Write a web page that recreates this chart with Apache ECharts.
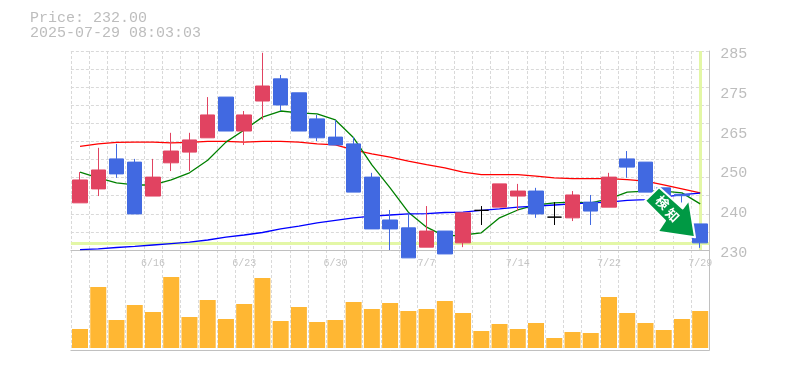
<!DOCTYPE html>
<html>
<head>
<meta charset="utf-8">
<style>html,body{margin:0;padding:0;background:#fff}#c{width:785px;height:370px}</style>
<script src="https://cdn.jsdelivr.net/npm/echarts@6/dist/echarts.min.js"></script>
</head>
<body>
<div id="c"></div>
<script>
const titleLines = ['Price: 232.00', '2025-07-29 08:03:03'];
const dates = ['6/10','6/11','6/12','6/13','6/16','6/17','6/18','6/19','6/20','6/23','6/24','6/25','6/26','6/27','6/30','7/1','7/2','7/3','7/4','7/7','7/8','7/9','7/10','7/11','7/14','7/15','7/16','7/17','7/18','7/22','7/23','7/24','7/25','7/28','7/29'];
const dateTicks = ['6/16','6/23','6/30','7/7','7/14','7/22','7/29'];
const priceTickValues = [230, 241.14, 252.28, 263.42, 274.56, 285.7];
const priceTickLabels = ['230','240','250','265','275','285'];
// open, close, low, high
const ohlc = [
[243.2,249.6,243.2,251.8],[247.1,252.4,245.1,258.6],[255.5,251.3,250.2,259.7],[254.6,240.1,240.1,255.5],
[245.1,250.4,245.1,255.5],[254.4,257.7,252.1,262.8],[257.4,260.8,252.1,262.8],[261.4,267.8,261.4,272.8],
[272.8,263.3,263.3,272.8],[263.3,267.8,259.4,268.9],[271.7,275.9,266.5,285.2],[277.9,270.6,268.9,279],
[274,263.3,263.3,274],[266.7,261.4,260.5,267.8],[261.6,259.4,259.4,266.4],[259.7,246.2,246.2,261.6],
[250.4,235.9,235.9,251.6],[238.4,235.9,230,241.2],[236.2,227.8,227.8,240.4],[230.8,235.3,230.8,242.3],
[235.3,228.9,228.9,235.3],[232,240.4,230.8,240.4],[241.1,241.1,237,242.3],[242,248.5,242,248.5],
[245.1,246.5,240.9,248.5],[246.5,240.1,239,247.4],[239.2,239.2,237,243.4],[239,245.4,238.1,246.5],
[243.4,240.9,237,245.4],[242,250.4,242,251.6],[255.5,253.2,250.2,257.7],[254.6,246.2,246.2,254.6],
[247.4,244.6,244.6,247.4],[245.6,245.2,243.3,245.6],[237.3,232,230.6,237.3]
];
const maShort = [251.8,250.2,248.8,248.2,248.2,249.6,251.6,255.1,260.2,263.6,267.2,268.9,268.4,268.1,266.4,261.4,253.8,247.4,240.6,236.4,233.9,234.2,234.8,239,241.2,242.6,243.2,243.4,243.2,244.3,246.2,246.5,246.5,246,242.9];
const maMid = [259,259.7,260.1,260.2,260.2,260,260.1,260.4,260.4,260.2,260.4,260.4,260.2,259.7,259.4,258,256.9,256,254.9,253.9,253,251.8,251.1,251.1,251.1,250.7,250.2,250,250,250,249.7,249.3,248.2,247.1,246];
const maLong = [230.1,230.3,230.7,231,231.4,231.8,232.2,232.8,233.6,234.2,234.9,235.9,236.7,237.6,238.3,239,239.5,239.8,240.1,240.2,240.5,240.6,241.1,241.5,242,242.3,242.6,242.9,243.2,243.4,243.9,244.1,244.8,245.5,245.9];
const volumes = [19,61,28,43,36,71,31,48,29,44,70,27,41,26,28,46,39,45,37,39,47,35,17,24,19,25,10,16,15,51,35,25,18,29,37];
const lastPrice = 232;
const lastDate = '7/29';
const lastMarker = dates.map((d) => d === lastDate ? lastPrice : null);
const signText = ['検', '知'];

const MONO = '"Liberation Mono", monospace';
const GRID_C = '#d9d9d9', AXIS_C = '#c0c0c0', TXT_C = '#bdbdbd';
const UP = '#e14361', DOWN = '#4169e1', HI = '#e3f7a6';
const dash = { color: GRID_C, width: 1, type: [3, 2] };

const chart = echarts.init(document.getElementById('c'), null, { renderer: 'canvas' });
chart.setOption({
  animation: false,
  backgroundColor: '#fff',
  title: {
    text: titleLines.join('\n'), left: 25, top: 6,
    textStyle: { fontFamily: MONO, fontSize: 15, fontWeight: 'normal', color: TXT_C, lineHeight: 15 }
  },
  grid: [
    { left: 70.9, width: 638.4, top: 51, height: 199 },
    { left: 70.9, width: 638.4, top: 250, height: 100 }
  ],
  xAxis: [
    { type: 'category', gridIndex: 0, data: dates, boundaryGap: true,
      axisLine: { onZero: false, lineStyle: { color: AXIS_C } }, axisTick: { show: false },
      splitLine: { show: true, interval: 0, lineStyle: dash },
      axisLabel: { interval: (i, v) => dateTicks.includes(v), margin: 8, hideOverlap: false, fontFamily: MONO, fontSize: 10, color: '#c4c4c4' } },
    { type: 'category', gridIndex: 1, data: dates, boundaryGap: true,
      axisLine: { onZero: false, lineStyle: { color: AXIS_C } }, axisTick: { show: false },
      splitLine: { show: true, interval: 0, lineStyle: dash }, axisLabel: { show: false } }
  ],
  yAxis: [
    { type: 'value', gridIndex: 0, position: 'right', min: 230, max: 285.7, scale: true,
      axisLine: { show: true, lineStyle: { color: AXIS_C } }, axisTick: { show: false }, splitLine: { show: false },
      axisLabel: { customValues: priceTickValues, margin: 11, fontFamily: MONO, fontSize: 15, color: TXT_C, verticalAlign: 'top', lineHeight: 6,
        formatter: (v, i) => priceTickLabels[priceTickValues.indexOf(v)] } },
    { type: 'value', gridIndex: 0, position: 'left', min: 0, max: 11, interval: 1,
      axisLine: { show: false }, axisTick: { show: false }, axisLabel: { show: false },
      splitLine: { show: true, lineStyle: dash } },
    { type: 'value', gridIndex: 1, position: 'right', min: -2, max: 98,
      axisLine: { show: true, lineStyle: { color: AXIS_C } }, axisTick: { show: false },
      axisLabel: { show: false }, splitLine: { show: false } }
  ],
  series: [
    { name: 'last', type: 'line', xAxisIndex: 0, yAxisIndex: 0, z: 1, data: lastMarker, symbol: 'none', silent: true,
      lineStyle: { opacity: 0 },
      markLine: { z: 1, silent: true, symbol: 'none', label: { show: false }, animation: false,
        lineStyle: { color: HI, width: 3, type: 'solid' },
        data: [{ yAxis: lastPrice }, { xAxis: lastDate }] } },
    { name: 'MA mid', type: 'line', xAxisIndex: 0, yAxisIndex: 0, z: 2, data: maMid, symbol: 'none', lineStyle: { color: '#ff0000', width: 1.3 } },
    { name: 'MA short', type: 'line', xAxisIndex: 0, yAxisIndex: 0, z: 2, data: maShort, symbol: 'none', lineStyle: { color: '#008000', width: 1.3 } },
    { name: 'MA long', type: 'line', xAxisIndex: 0, yAxisIndex: 0, z: 2, data: maLong, symbol: 'none', lineStyle: { color: '#0000ff', width: 1.3 } },
    { name: 'price', type: 'candlestick', xAxisIndex: 0, yAxisIndex: 0, z: 3, clip: false, barWidth: 15, data: ohlc,
      itemStyle: { color: UP, color0: DOWN, borderColor: UP, borderColor0: DOWN, borderColorDoji: '#000000', borderWidth: 1 } },
    { name: 'volume', type: 'bar', xAxisIndex: 1, yAxisIndex: 2, barWidth: 16, data: volumes, itemStyle: { color: '#ffb733' } }
  ],
  graphic: [
    { type: 'polygon', z: 100,
      shape: { points: [[659,187.3],[645,200.7],[665,220.7],[657.7,231.7],[695,237.3],[689,200],[682.7,208.5]] },
      style: { fill: '#009944', stroke: '#ffffff', lineWidth: 2, lineJoin: 'round' } },
    { type: 'text', z: 101, x: 662.7, y: 202.3, rotation: -Math.PI / 4,
      style: { text: signText[0], fill: '#fff', font: 'bold 13px "Noto Sans CJK JP"', align: 'center', verticalAlign: 'middle' } },
    { type: 'text', z: 101, x: 672.5, y: 215, rotation: -Math.PI / 4,
      style: { text: signText[1], fill: '#fff', font: 'bold 13px "Noto Sans CJK JP"', align: 'center', verticalAlign: 'middle' } }
  ]
});
</script>
</body>
</html>
